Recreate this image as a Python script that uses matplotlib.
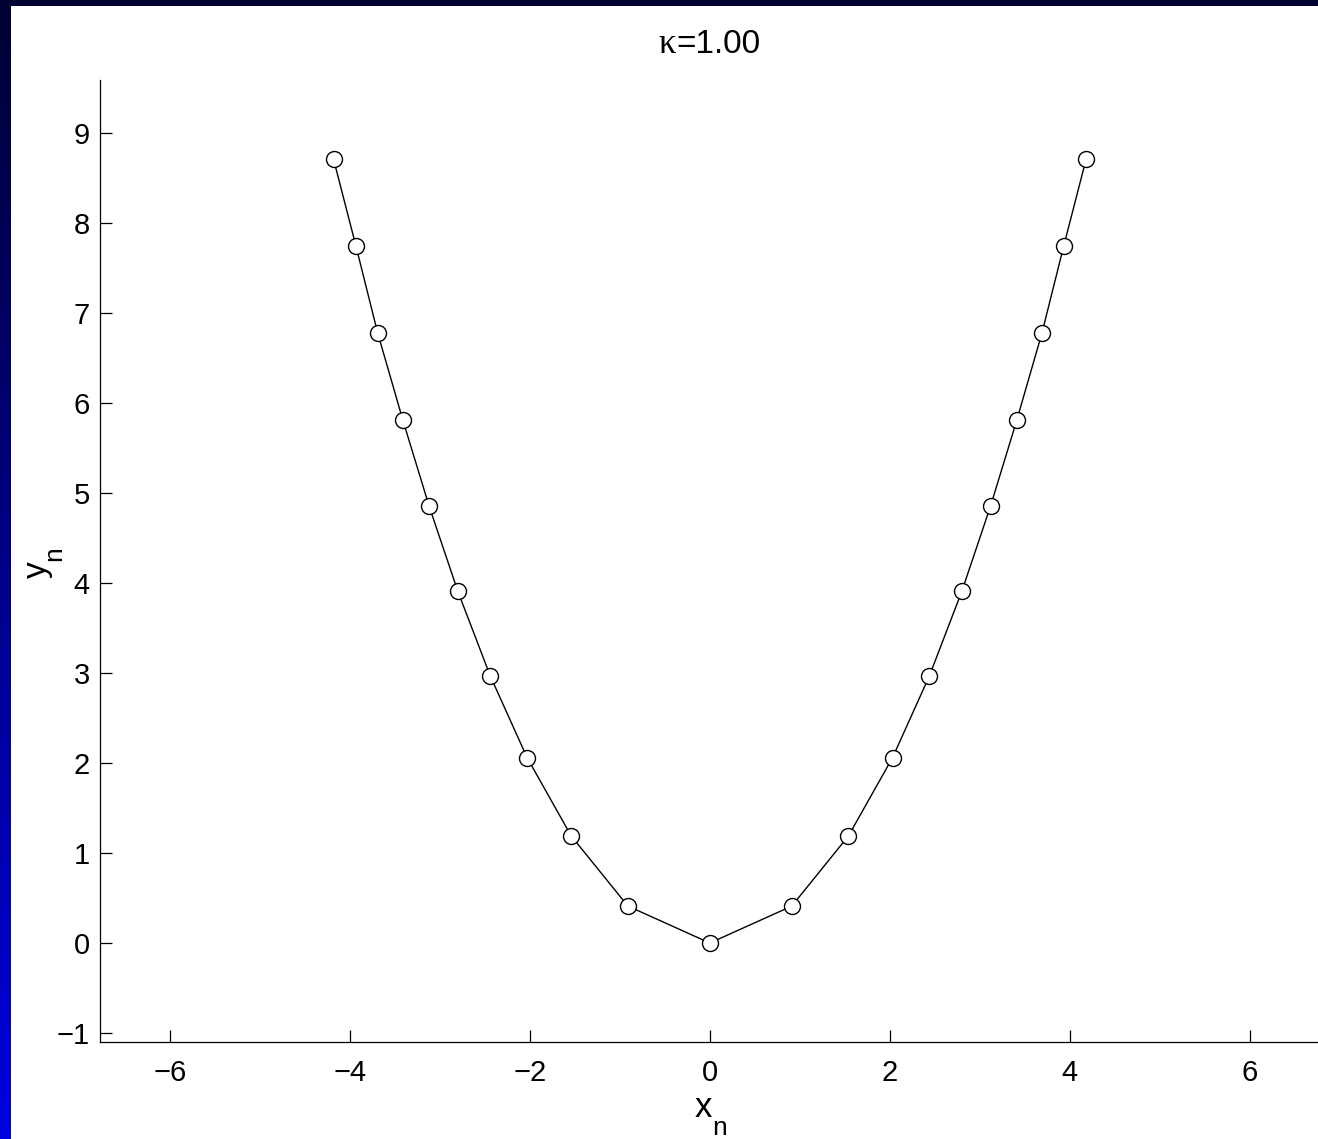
import numpy as np
import matplotlib
matplotlib.use('Agg')
import matplotlib.pyplot as plt
from matplotlib.patches import Rectangle

plt.rcParams['font.family'] = ['Liberation Sans', 'DejaVu Sans']

# positions of the chain
xn = [-4.18, -3.93, -3.69, -3.41, -3.12, -2.80, -2.44, -2.03, -1.54, -0.91, 0.0,
      0.91, 1.54, 2.03, 2.44, 2.80, 3.12, 3.41, 3.69, 3.93, 4.18]
yn = [8.71, 7.74, 6.78, 5.81, 4.86, 3.91, 2.97, 2.06, 1.19, 0.41, 0.0,
      0.41, 1.19, 2.06, 2.97, 3.91, 4.86, 5.81, 6.78, 7.74, 8.71]
xticks = [-6, -4, -2, 0, 2, 4, 6]
yticks = [-1, 0, 1, 2, 3, 4, 5, 6, 7, 8, 9]
kappa = 1.00

W, H = 1318, 1139
fig = plt.figure(figsize=(W / 100, H / 100), dpi=100)
fig.patch.set_facecolor('white')

# blue frame: gradient strip on the left (dark at top, bright at bottom), dark bar on top
bg = fig.add_axes([0, 0, 11 / W, 1])
t = np.linspace(0, 1, 256)
cols = np.zeros((256, 1, 3))
cols[:, 0, 2] = 0.87 - 0.67 * t   # row 0 = bottom
bg.imshow(cols, aspect='auto', origin='lower', extent=[0, 1, 0, 1])
bg.axis('off')
fig.patches.append(Rectangle((0, 1 - 6 / H), 1, 6 / H, transform=fig.transFigure,
                             facecolor='#000033', edgecolor='none', zorder=5))

ax = fig.add_axes([99.5 / W, 97 / H, (W - 99.5) / W, (1042 - 80) / H])
ax.plot(xn, yn, color='black', lw=1.0, marker='o', ms=11.5,
        mfc='white', mec='black', mew=1.0, zorder=3)

ax.set_xlim(-6.78, 6.756)
ax.set_ylim(-1.1, 9.59)
ax.set_xticks(xticks)
ax.set_yticks(yticks)
ax.spines['top'].set_visible(False)
ax.spines['right'].set_visible(False)
for s in ('left', 'bottom'):
    ax.spines[s].set_linewidth(0.9)
ax.tick_params(direction='in', length=8.5, width=0.9, labelsize=21)
ax.tick_params(axis='x', pad=12)
ax.tick_params(axis='y', pad=7)

# title
fig.text(676 / W, 1 - 53 / H, '\u03ba', family=['Liberation Serif'], fontsize=25,
         ha='right', va='baseline')
fig.text(676 / W, 1 - 53 / H, '=%.2f' % kappa, fontsize=24, ha='left', va='baseline')

# axis labels with a low subscript
fig.text(712 / W, 1 - 1117 / H, 'x', fontsize=25, ha='right', va='baseline')
fig.text(712 / W, 1 - 1135 / H, 'n', fontsize=19, ha='left', va='baseline')
fig.text(46 / W, 1 - 561 / H, 'y', fontsize=24, rotation=90, rotation_mode='anchor',
         ha='right', va='baseline')
fig.text(61 / W, 1 - 561 / H, 'n', fontsize=19, rotation=90, rotation_mode='anchor',
         ha='left', va='baseline')

fig.savefig('out.png', dpi=100)
